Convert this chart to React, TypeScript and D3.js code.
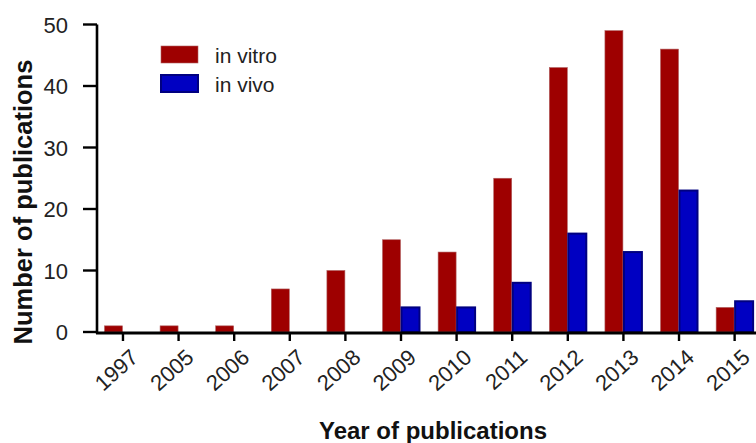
import React from "react";
import * as d3 from "d3";

const years = ["1997", "2005", "2006", "2007", "2008", "2009", "2010", "2011", "2012", "2013", "2014", "2015"];
const inVitro = [1, 1, 1, 7, 10, 15, 13, 25, 43, 49, 46, 4];
const inVivo = [0, 0, 0, 0, 0, 4, 4, 8, 16, 13, 23, 5];
const seriesNames = ["in vitro", "in vivo"];
const yTicks = [0, 10, 20, 30, 40, 50];

const W = 756;
const H = 443;
const axisX = 97;
const baseY = 332;

const App = () => {
  const x = d3
    .scaleBand()
    .domain(years)
    .range([95.2, 762.4])
    .paddingInner(0.317)
    .paddingOuter(0.158);
  const x1 = d3.scaleBand().domain(seriesNames).range([0, x.bandwidth()]).padding(0);
  const y = d3.scaleLinear().domain([0, 50]).range([baseY, 24.5]);

  const colors = { "in vitro": "#9e0000", "in vivo": "#0000c2" };
  const strokes = { "in vitro": "#b06060", "in vivo": "#000080" };

  const rows = years.map((yr, i) => ({ yr, vals: [inVitro[i], inVivo[i]] }));
  const font = "'Liberation Sans', Arial, sans-serif";

  return (
    <svg
      width={W}
      height={H}
      style={{ position: "absolute", left: 0, top: 0, background: "#fff" }}
      fontFamily={font}
    >
      {/* bars */}
      {rows.map((r) => (
        <g key={r.yr} transform={`translate(${x(r.yr)},0)`}>
          {r.vals.map((v, j) =>
            v > 0 ? (
              <rect
                key={j}
                x={x1(seriesNames[j])! + 0.5}
                y={y(v)}
                width={x1.bandwidth() - 1}
                height={y(0) - y(v)}
                fill={colors[seriesNames[j]]}
                stroke={strokes[seriesNames[j]]}
                strokeWidth={j === 1 ? 2 : 0.6}
              />
            ) : null
          )}
        </g>
      ))}

      {/* y axis */}
      <line x1={axisX} x2={axisX} y1={y(50)} y2={baseY + 1.5} stroke="#000" strokeWidth={2.6} />
      {yTicks.map((t) => (
        <g key={t} transform={`translate(0,${y(t)})`}>
          <line x1={83} x2={axisX} stroke="#000" strokeWidth={2.4} />
          <text x={68} dy={8} textAnchor="end" fontSize={22} fill="#222">
            {t}
          </text>
        </g>
      ))}

      {/* x axis */}
      <line x1={axisX - 1} x2={W} y1={baseY + 1} y2={baseY + 1} stroke="#000" strokeWidth={2.8} />
      {years.map((yr) => {
        const cx = x(yr)! + x.bandwidth() / 2;
        return (
          <g key={yr} transform={`translate(${cx},${baseY})`}>
            <line y1={0} y2={9} stroke="#000" strokeWidth={2.4} />
            <text
              transform="translate(6,15.5) rotate(-42)"
              textAnchor="end"
              dy="0.72em"
              fontSize={22}
              fill="#222"
            >
              {yr}
            </text>
          </g>
        );
      })}

      {/* axis titles */}
      <text
        transform={`translate(32,${202}) rotate(-90)`}
        textAnchor="middle"
        fontSize={25.5}
        fontWeight="bold"
        fill="#111"
      >
        Number of publications
      </text>
      <text
        x={433}
        y={439}
        textAnchor="middle"
        fontSize={23}
        fontWeight="bold"
        fill="#111"
        textLength={228}
        lengthAdjust="spacingAndGlyphs"
      >
        Year of publications
      </text>

      {/* legend */}
      {seriesNames.map((s, i) => (
        <g key={s} transform={`translate(161,${46 + i * 29})`}>
          <rect
            width={37}
            height={17}
            fill={colors[s]}
            stroke={strokes[s]}
            strokeWidth={i === 1 ? 2 : 0.6}
          />
          <text x={54} y={16.5} fontSize={21} fill="#222">
            {s}
          </text>
        </g>
      ))}
    </svg>
  );
};

export default App;
